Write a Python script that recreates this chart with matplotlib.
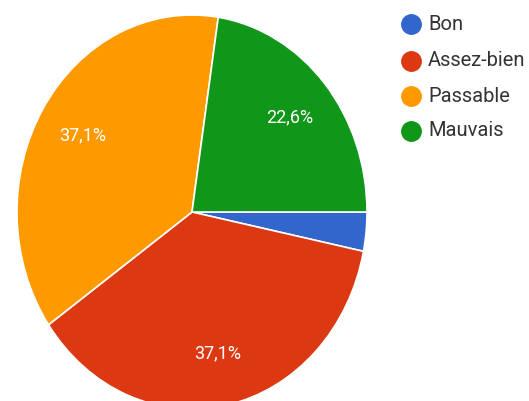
import matplotlib
matplotlib.use("Agg")
import matplotlib.pyplot as plt
from matplotlib.lines import Line2D

plt.rcParams['font.family'] = ['Roboto', 'DejaVu Sans']

# Data
labels = ["Bon", "Assez-bien", "Passable", "Mauvais"]
shares = [3.2, 37.1, 37.1, 22.6]
colors = ["#3366CC", "#DC3912", "#FF9900", "#109618"]

W, H = 529, 401
fig = plt.figure(figsize=(W / 100, H / 100), dpi=100)

# pie area (slightly taller than wide)
ax = fig.add_axes([17 / W, -8 / H, 350 / W, 394 / H])

def fmt(p):
    return ("%.1f%%" % p).replace(".", ",") if p >= 5 else ""

wedges, texts, autotexts = ax.pie(
    shares, colors=colors, startangle=0, counterclock=False,
    autopct=fmt, pctdistance=0.735,
    wedgeprops=dict(edgecolor="white", linewidth=1.2),
    textprops=dict(color="white", fontsize=13),
)
ax.set_aspect("auto")
ax.set_xlim(-1, 1)
ax.set_ylim(-1, 1)
ax.axis("off")

# Legend
rows_y = [24, 61, 96, 131]
for lab, col, y in zip(labels, colors, rows_y):
    fy = 1 - y / H
    fig.add_artist(Line2D([411 / W], [fy], marker="o", markersize=14,
                          color=col, linestyle="none", transform=fig.transFigure))
    fig.text(428 / W, fy, lab, fontsize=14.5, color="#333333", va="center", ha="left")

fig.savefig("out.png", dpi=100)
